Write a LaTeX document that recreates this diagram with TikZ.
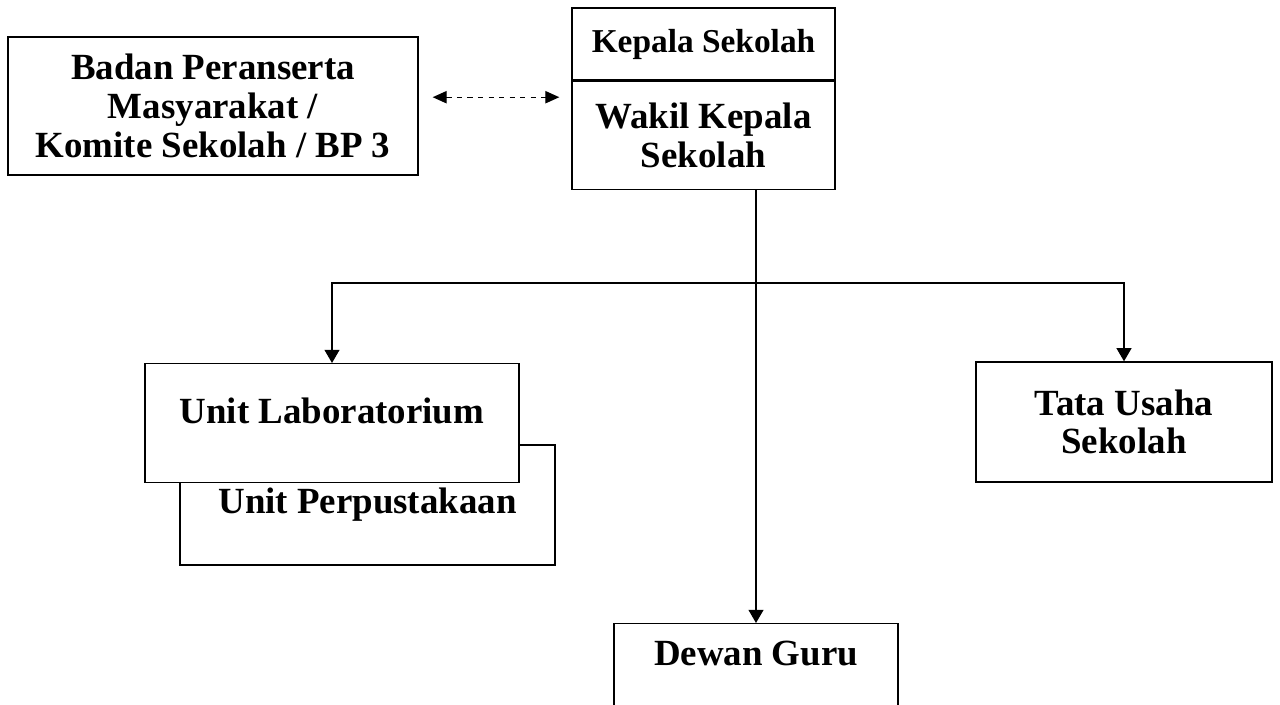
\documentclass[tikz,border=0pt]{standalone}
\usepackage{fontspec}
\setmainfont{Liberation Serif}
\usetikzlibrary{arrows.meta}
\begin{document}
\begin{tikzpicture}[x=0.02cm,y=-0.02cm,line width=0.8pt,
    box/.style={draw,rectangle,fill=white,align=center,inner sep=0pt,
        font=\fontsize{21}{22}\selectfont\bfseries},
    arr/.style={-{Triangle[length=7.5pt,width=8.5pt]}}]
        \clip (0,0) rectangle (1280,705);
        %% top row
        \node[box,minimum width=8.2cm,minimum height=2.76cm] (bpm) at (213,106) {Badan Peranserta\\Masyarakat /\\Komite Sekolah / BP 3};
        \node[box,minimum width=5.26cm,minimum height=1.44cm,font=\fontsize{19}{22}\selectfont\bfseries] (kepsek) at (703.5,44) {Kepala Sekolah};
        \node[box,minimum width=5.26cm,minimum height=2.16cm,anchor=north] (wakil) at (kepsek.south) {Wakil Kepala\\Sekolah};
        %% units
        \node[box,minimum width=7.5cm,minimum height=2.4cm] (perpus) at (367.5,505) {Unit Perpustakaan};
        \node[box,minimum width=7.48cm,text height=1.2cm,text depth=1.18cm,anchor=north] (lab) at (332,363) {Unit Laboratorium};
        \node[box,minimum width=5.92cm,minimum height=2.4cm] (tata) at (1124,422) {Tata Usaha\\Sekolah};
        \node[box,minimum width=5.68cm,text height=0.84cm,text depth=2cm,anchor=north] (dewan) at (756,623) {Dewan Guru};
        %% lines
        \coordinate (br) at (756,283);
        \draw[arr] (wakil.south -| dewan.north) -- (dewan.north);
        \draw[arr] (br) -| (lab.north);
        \draw[arr] (br) -| (tata.north);
        \draw[dashed,{Triangle[length=8pt,width=7pt]}-{Triangle[length=8pt,width=7pt]}] ([xshift=0.28cm,yshift=5]bpm.east) -- ([xshift=-0.24cm,yshift=5]bpm.east -| wakil.west);
    \end{tikzpicture}
\end{document}
